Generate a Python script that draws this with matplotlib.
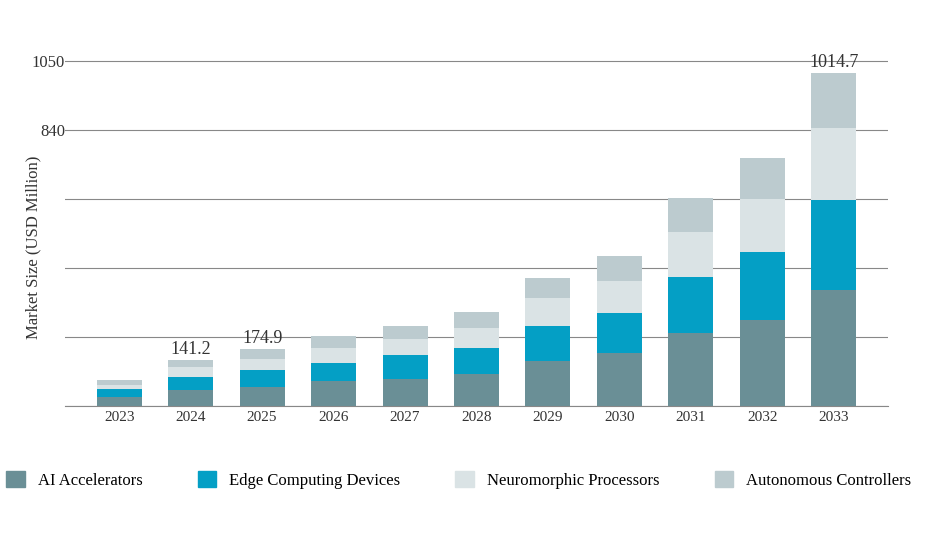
import matplotlib
matplotlib.use("Agg")
import matplotlib.pyplot as plt
from matplotlib.patches import Patch

years = ["2023", "2024", "2025", "2026", "2027", "2028", "2029", "2030", "2031", "2032", "2033"]
ai_accel = [27, 49, 58, 76, 82, 97, 137, 161, 222, 262, 353]
edge = [24, 40, 52, 55, 73, 79, 107, 122, 170, 207, 274]
neuro = [12, 30, 33, 46, 49, 61, 85, 97, 137, 161, 219]
auto = [16, 22.2, 31.9, 36, 39, 49, 61, 76, 104, 125, 168.7]
labelled = {"2024": "141.2", "2025": "174.9", "2033": "1014.7"}

series = [
    ("AI Accelerators", ai_accel, "#6a8f96"),
    ("Edge Computing Devices", edge, "#049fc5"),
    ("Neuromorphic Processors", neuro, "#dae3e5"),
    ("Autonomous Controllers", auto, "#bccbcf"),
]

plt.rcParams["font.family"] = ["Liberation Serif", "DejaVu Serif"]
fig = plt.figure(figsize=(9.27, 5.33), dpi=100)
ax = fig.add_axes([0.070, 0.238, 0.888, 0.709])

x = list(range(len(years)))
bottom = [0.0] * len(years)
for name, vals, color in series:
    ax.bar(x, vals, bottom=bottom, width=0.63, color=color, zorder=3)
    bottom = [b + v for b, v in zip(bottom, vals)]

for i, yr in enumerate(years):
    if yr in labelled:
        ax.text(i, bottom[i] + 6, labelled[yr], ha="center", va="bottom", fontsize=13, color="#333333")

ax.set_xlim(-0.76, 10.76)
ax.set_ylim(0, 1150)
ax.set_yticks([0, 210, 420, 630, 840, 1050])
ax.set_yticklabels(["", "", "", "", "840", "1050"], fontsize=12)
ax.set_xticks(x)
ax.set_xticklabels(years, fontsize=11)
ax.tick_params(length=0, colors="#333333")
ax.tick_params(axis="y", pad=0)
ax.grid(axis="y", color="#888888", linewidth=0.8, zorder=0)
for s in ["top", "right", "left"]:
    ax.spines[s].set_visible(False)
ax.spines["bottom"].set_color("#888888")
ax.set_ylabel("Market Size (USD Million)", fontsize=12, color="#333333")
ax.yaxis.set_label_coords(-0.028, 0.42)

handles = [Patch(color=c, label=n) for n, _, c in series]
fig.legend(handles=handles, loc="center", bbox_to_anchor=(0.495, 0.10), ncol=4,
           frameon=False, fontsize=12, handlelength=1.1, handleheight=1.1, columnspacing=3.3)
fig.savefig("out.png", dpi=100)
